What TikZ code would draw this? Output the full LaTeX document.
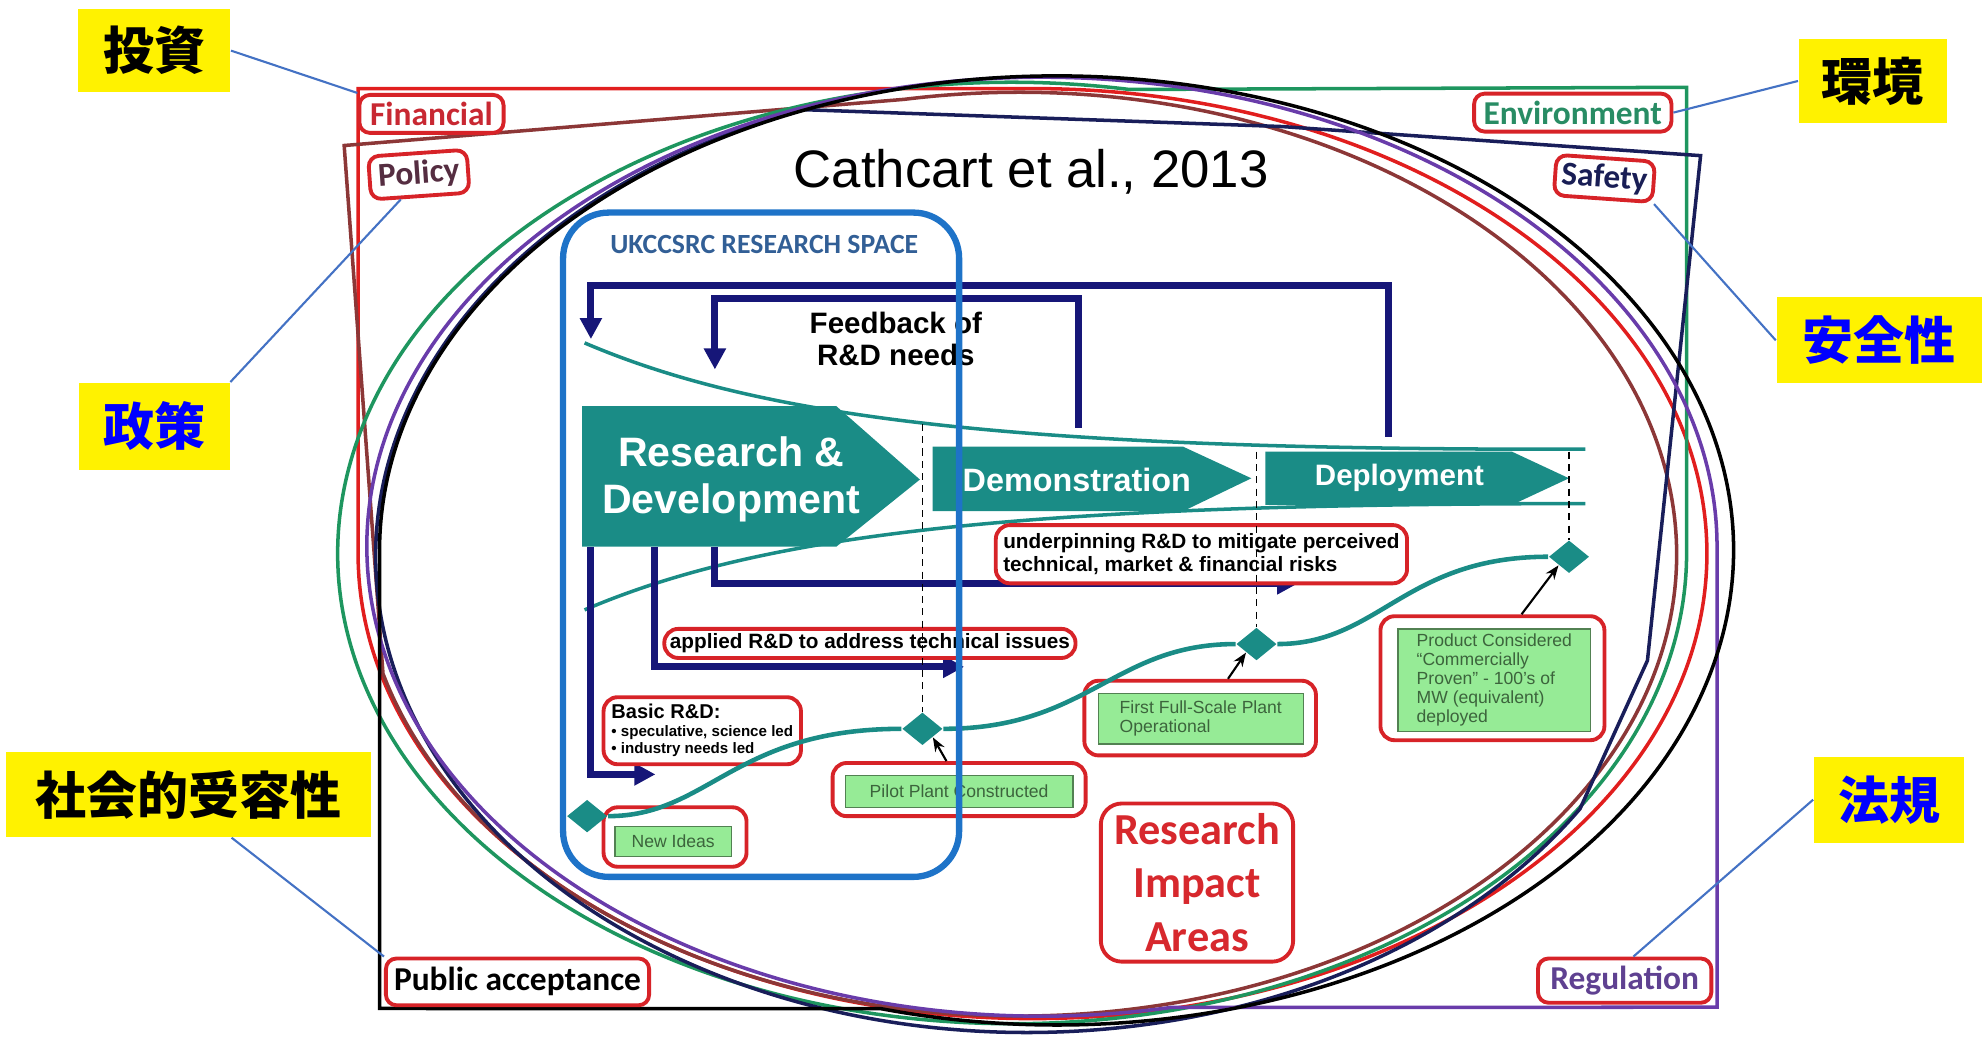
\documentclass[tikz,border=0pt]{standalone}
\usepackage{fontspec}
\setmainfont{Liberation Sans}
\newfontfamily\calfont{Carlito}
\newfontfamily\jpfont{Noto Sans CJK JP}
\usetikzlibrary{arrows.meta,shapes.geometric}

\newlength{\dpx}
\setlength{\dpx}{0.12653mm}
\newcommand{\fsz}[2]{\fontsize{#1}{#2}\selectfont}

\definecolor{tealA}{RGB}{26,140,134}
\definecolor{navyA}{RGB}{22,22,120}
\definecolor{spaceblue}{RGB}{30,115,200}
\definecolor{spacetitle}{RGB}{50,95,150}
\definecolor{boxred}{RGB}{215,35,40}
\definecolor{lgreen}{RGB}{150,235,150}
\definecolor{grntext}{RGB}{60,100,60}
\definecolor{callblue}{RGB}{68,114,196}
\definecolor{eGreen}{RGB}{30,150,95}
\definecolor{ePurple}{RGB}{105,60,170}
\definecolor{eNavy}{RGB}{25,30,90}
\definecolor{eRed}{RGB}{225,30,30}
\definecolor{eBrown}{RGB}{140,55,55}
\definecolor{finred}{RGB}{200,40,50}
\definecolor{poltext}{RGB}{85,45,65}
\definecolor{envtext}{RGB}{40,140,100}
\definecolor{safetext}{RGB}{25,30,85}
\definecolor{regtext}{RGB}{95,65,145}
\definecolor{impred}{RGB}{215,40,45}

\begin{document}
\begin{tikzpicture}[x=\dpx, y=-\dpx, >=Stealth]

\tikzset{
  ell/.style={line width=1pt},
  yel/.style={fill=yellow, inner sep=0pt, font=\jpfont\bfseries\fsz{14.5pt}{16pt}},
  lab/.style={draw=boxred, line width=1.1pt, rounded corners=3pt, fill=white, inner sep=0pt, font=\calfont\bfseries\fsz{9.5pt}{11pt}},
  callout/.style={draw=callblue, line width=0.6pt},
  redbox/.style={draw=boxred, line width=1.1pt, rounded corners=4pt, fill=white, inner sep=0pt},
  grnbox/.style={draw=lgreen!55!black, line width=0.4pt, fill=lgreen, inner sep=0pt, text=grntext, align=left, font=\fsz{5pt}{5.4pt}},
  navyarr/.style={draw=navyA, line width=2pt, -{Triangle[width=6pt,length=6pt]}},
  tealcurve/.style={draw=tealA, line width=1pt},
  vdash/.style={draw=black, line width=0.5pt, dash pattern=on 2pt off 1.5pt},
  dia/.style={diamond, fill=tealA, inner sep=0pt, minimum width=32\dpx, minimum height=26\dpx},
  stagetxt/.style={text=white, align=center, inner sep=0pt},
  blkarr/.style={draw=black, line width=0.6pt, -{Stealth[length=4pt,width=3pt]}}
}

\useasboundingbox (0,0) rectangle (1568,819);

% --- Regiões (retângulo + elipse de cada cor) ---
\draw[ell, eRed] (283,437.5) -- (283,70) -- (816,70) arc[start angle=-90, end angle=180, x radius=533, y radius=367.5];
\draw[ell, eBrown] (302.7,532.5) -- (272,115) -- (714.7,78.5) arc[start angle=-100, end angle=165, x radius=520, y radius=365];
\draw[ell, eGreen] (1333,437) -- (1333,69) -- (892.5,70.7) arc[start angle=-80, end angle=-360, x radius=533, y radius=372];
\draw[ell, eNavy] (635.9,86.7) -- (1013,100) -- (1344,123) -- (1302,522) -- (1248.7,639.2) arc[start angle=32, end angle=250, x radius=515, y radius=376];
\draw[ell, ePurple] (1357,432) -- (1357,796) -- (925.3,796.2) arc[start angle=79, end angle=360, x radius=533.5, y radius=371];
\draw[ell, black] (300,435) -- (300,797) -- (696.5,797.2) arc[start angle=105, end angle=-180, x radius=535, y radius=375];

\node[font=\fsz{15pt}{18pt}] (cite) at (815,136) {Cathcart et al., 2013};

% --- Funil ---
\draw[tealcurve] (462,271) .. controls (600,330) and (800,356) .. (1253,355);
\draw[tealcurve] (462,482) .. controls (600,423) and (800,398) .. (1253,398);

% --- Realimentação ---
\coordinate (fbA) at (1097,345);
\coordinate (fbAe) at (467,268);
\coordinate (fbB) at (852,338);
\coordinate (fbBe) at (565,292);
\draw[navyarr] (fbA) -- (1097,226) -- (467,226) -- (fbAe);
\draw[navyarr] (fbB) -- (852,236) -- (565,236) -- (fbBe);
\node[font=\bfseries\fsz{8.4pt}{9pt}, align=center] (fbtxt) at (708,268) {Feedback of\\R\&D needs};

% Setas de P&D aplicada
\coordinate (rdA) at (467,432);
\coordinate (rdB) at (517,432);
\coordinate (rdC) at (565,432);
\coordinate (a1e) at (518,612);
\coordinate (a2e) at (762,527);
\coordinate (a3e) at (1026,461);
\draw[navyarr] (rdA) |- (a1e);
\draw[navyarr] (rdB) |- (a2e);
\draw[navyarr] (rdC) |- (a3e);

% --- Estágios ---
\fill[tealA] (460,321) -- (661,321) -- (727,379) -- (661,432) -- (460,432) -- cycle;
\fill[tealA] (737,353) -- (935,353) -- (989,378) -- (935,404) -- (737,404) -- cycle;
\fill[tealA] (1000,357) -- (1195,357) -- (1240,378) -- (1195,399) -- (1000,399) -- cycle;
\node[stagetxt, font=\bfseries\fsz{11.7pt}{13.3pt}] (rd) at (578,379) {Research \&\\Development};
\node[stagetxt, font=\bfseries\fsz{9.2pt}{11pt}] (demo) at (851,379) {Demonstration};
\node[stagetxt, font=\bfseries\fsz{8.4pt}{10pt}] (depl) at (1106,378) {Deployment};

% --- Caixas de texto ---
\node[redbox, minimum width=325\dpx, minimum height=46\dpx, align=left, font=\bfseries\fsz{5.9pt}{6.4pt}] (under) at (949.5,438) {underpinning R\&D to mitigate perceived\\technical, market \& financial risks};
\node[redbox, minimum width=325\dpx, minimum height=23\dpx, font=\bfseries\fsz{5.9pt}{6.4pt}] (applied) at (687.5,508.5) {applied R\&D to address technical issues};
\node[redbox, minimum width=156\dpx, minimum height=53\dpx, align=left, font=\bfseries\fsz{4.3pt}{5pt}] (basic) at (555,577.5) {{\fsz{5.7pt}{5pt}Basic R\&D:}\\• speculative, science led\\• industry needs led};

\node[redbox, minimum width=113\dpx, minimum height=47\dpx] (ideasbox) at (533.5,661.5) {};
\node[grnbox, minimum width=92\dpx, minimum height=24\dpx] (ideas) at (532,665) {New Ideas};
\node[redbox, minimum width=200\dpx, minimum height=42\dpx] (pilotbox) at (758,624) {};
\node[grnbox, minimum width=180\dpx, minimum height=25\dpx] (pilot) at (758,625.5) {Pilot Plant Constructed};
\node[redbox, minimum width=183\dpx, minimum height=59\dpx] (firstbox) at (948.5,567.5) {};
\node[grnbox, minimum width=162\dpx, minimum height=40\dpx] (first) at (949,568) {First Full-Scale Plant\\Operational};
\node[redbox, minimum width=177\dpx, minimum height=98\dpx] (prodbox) at (1179.5,536) {};
\node[grnbox, minimum width=152\dpx, minimum height=81\dpx] (prod) at (1181,537.5) {Product Considered\\“Commercially\\Proven” - 100's of\\MW (equivalent)\\deployed};

% --- Marcos (losangos) ---
\node[dia] (d1) at (464,645) {};
\node[dia] (d2) at (729,576) {};
\node[dia] (d3) at (993,509) {};
\node[dia] (d4) at (1240,440) {};

\coordinate (g1) at (729,335);
\coordinate (g2) at (993,357);
\coordinate (g3) at (1240,357);
\draw[vdash] (g1) -- (d2);
\draw[vdash] (g2) -- (d3);
\draw[vdash] (g3) -- (d4);

\draw[tealcurve, line width=1.3pt] (d1.east) .. controls (560,645) and (580,576) .. (d2.west);
\draw[tealcurve, line width=1.3pt] (d2.east) .. controls (860,576) and (880,509) .. (d3.west);
\draw[tealcurve, line width=1.3pt] (d3.east) .. controls (1090,509) and (1110,440) .. (d4.west);

\draw[blkarr] ([xshift=-10\dpx]pilotbox.north) -- (d2.south east);
\draw[blkarr] ([xshift=22\dpx]firstbox.north) -- (d3.south west);
\draw[blkarr] ([xshift=23\dpx]prodbox.north) -- (d4.south west);

% --- Espaço de pesquisa ---
\node[draw=spaceblue, line width=1.8pt, rounded corners=13pt, minimum width=313\dpx, minimum height=525\dpx, inner sep=0pt] (space) at (601.5,430.5) {};
\node[text=spacetitle, font=\calfont\bfseries\fsz{7.9pt}{9pt}] (spacettl) at (604,193) {UKCCSRC RESEARCH SPACE};

\node[redbox, rounded corners=6pt, minimum width=152\dpx, minimum height=125\dpx, align=center, text=impred, font=\calfont\bfseries\fsz{12.6pt}{15.2pt}] (ria) at (946,697.5) {Research\\Impact\\Areas};

% --- Rótulos das áreas ---
\node[lab, text=finred, minimum width=114\dpx, minimum height=30\dpx] (fin) at (341,90) {Financial};
\node[lab, text=poltext, rotate=4, minimum width=78\dpx, minimum height=34\dpx] (pol) at (331,138) {Policy};
\node[lab, text=envtext, minimum width=156\dpx, minimum height=30\dpx] (env) at (1243,89) {Environment};
\node[lab, text=safetext, rotate=-4, minimum width=78\dpx, minimum height=32\dpx] (safe) at (1268,141) {Safety};
\node[lab, text=black, minimum width=208\dpx, minimum height=37\dpx] (pub) at (409,776) {Public acceptance};
\node[lab, text=regtext, minimum width=137\dpx, minimum height=35\dpx] (reg) at (1284,775) {Regulation};

% --- Anotações em japonês ---
\node[yel, minimum width=120\dpx, minimum height=66\dpx] (touzi) at (122,40) {投資};
\node[yel, minimum width=117\dpx, minimum height=66\dpx] (kankyo) at (1480,64) {環境};
\node[yel, text=blue, minimum width=162\dpx, minimum height=68\dpx] (anzen) at (1485,269) {安全性};
\node[yel, text=blue, minimum width=119\dpx, minimum height=69\dpx] (seisaku) at (122,337) {政策};
\node[yel, minimum width=288\dpx, minimum height=67\dpx] (shakai) at (149,628) {社会的受容性};
\node[yel, text=blue, minimum width=119\dpx, minimum height=68\dpx] (houki) at (1493,632) {法規};

\draw[callout] (touzi.east) -- (fin.north west);
\draw[callout] (seisaku.north east) -- (pol.-130);
\draw[callout] (kankyo.west) -- (env.east);
\draw[callout] (safe.south east) -- (anzen.west);
\draw[callout] (shakai.-45) -- (pub.north west);
\draw[callout] (houki.west) -- (reg.70);

\end{tikzpicture}
\end{document}
